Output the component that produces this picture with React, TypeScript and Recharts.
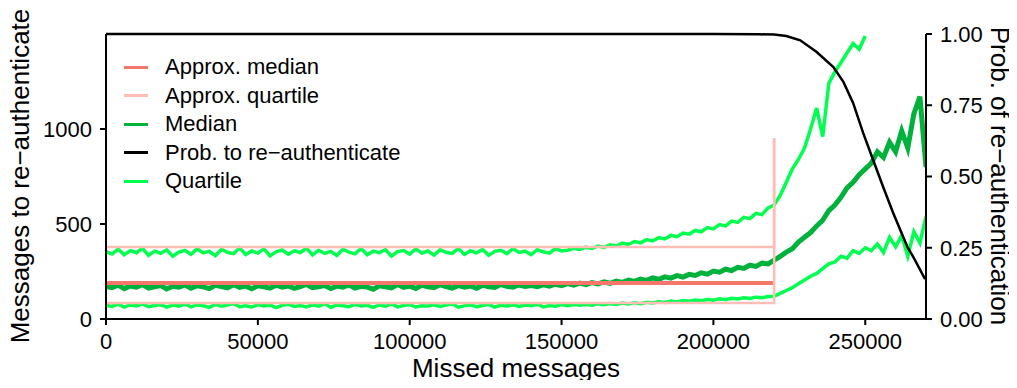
import { LineChart, Line, XAxis, YAxis } from 'recharts';

// missed-message bins (step 2000)
const missed = Array.from({ length: 136 }, (_, i) => i * 2000);

const medianVals = [
  172, 165, 178, 160, 174, 168, 181, 163, 170, 176, 158, 172, 167, 179, 162, 175, 169, 160, 177, 171,
  164, 180, 166, 173, 159, 175, 170, 162, 178, 168, 174, 161, 171, 182, 165, 169, 176, 160, 173, 167,
  179, 163, 172, 168, 157, 175, 170, 164, 181, 166, 173, 161, 177, 169, 165, 180, 171, 163, 176, 168,
  174, 162, 178, 170, 166, 181, 172, 167, 179, 171, 176,
  170, 180, 173, 183, 176, 186, 178, 189, 181, 192,
  185, 195, 188, 200, 193, 205, 198, 210, 203, 216,
  209, 222, 215, 228, 221, 235, 229, 243, 236, 252,
  246, 262, 255, 272, 266, 283, 277, 294, 290, 310,
  330, 352, 370, 405, 430, 455, 490, 520, 570, 600,
  640, 690, 720, 760, 790, 820, 880, 850, 930, 880,
  990, 900, 1080, 1170, 800,
];

const upperQuartile = [
  355, 342, 368, 338, 360, 349, 372, 335, 357, 346, 364, 330, 352, 361, 340, 370, 348, 356, 333, 366,
  351, 344, 375, 339, 358, 347, 369, 332, 354, 363, 341, 359, 350, 373, 337, 362, 345, 356, 334, 367,
  352, 343, 371, 338, 357, 349, 365, 331, 355, 360, 342, 369, 347, 358, 336, 364, 351, 345, 372, 340,
  359, 348, 366, 335, 356, 362, 344, 370, 350, 357, 339, 365, 353, 347, 371, 358,
  362, 372, 366, 378, 371, 384, 377, 391, 384, 399,
  392, 408, 401, 418, 411, 428, 421, 440, 433, 452,
  446, 466, 459, 481, 474, 497, 490, 515, 508, 535,
  528, 556, 549, 585, 600,
  650, 720, 790, 840, 900, 1000, 1110, 960, 1240, 1300,
  1350, 1400, 1450, 1420, 1490,
];

const lowerQuartile = [
  72, 66, 78, 63, 74, 69, 80, 65, 71, 76, 62, 73, 68, 79, 64, 75, 70, 61, 77, 67,
  73, 81, 65, 70, 63, 76, 69, 74, 60, 72, 78, 66, 71, 64, 75, 68, 80, 62, 73, 70,
  65, 77, 69, 72, 61, 74, 67, 79, 64, 71, 76, 63, 70, 68, 75, 66, 73, 80, 62, 69,
  74, 65, 71, 77, 63, 72, 68, 75, 66, 73, 70, 78, 64, 71, 67, 76,
  70, 76, 72, 78, 73, 80, 75, 82, 77, 84,
  79, 86, 81, 88, 84, 91, 87, 94, 90, 97,
  93, 100, 96, 103, 99, 106, 102, 109, 105, 112,
  108, 115, 112, 118, 120,
  135, 150, 165, 185, 205, 225, 240, 265, 290, 300,
  330, 320, 360, 345, 375, 360, 395, 350, 430, 380,
  440, 330, 460, 400, 540,
];

const probX = [0, 200000, 215000, 220000, 224000, 228600, 234000, 239500, 242800, 246000, 249300, 252600, 255900, 259200, 262500, 264000, 265800, 269700];
const probY = [1, 1, 0.999, 0.998, 0.993, 0.978, 0.937, 0.884, 0.832, 0.758, 0.653, 0.558, 0.463, 0.372, 0.288, 0.25, 0.218, 0.14];

const approxMedianX = [0, 220000];
const approxMedianY = [190, 190];
const approxUpperX = [0, 220000, 220000];
const approxUpperY = [379, 379, 953];
const approxLowerX = [0, 220000, 220000];
const approxLowerY = [84, 84, 953];

const xTicks = [0, 50000, 100000, 150000, 200000, 250000];
const leftTicks = [0, 500, 1000];
const rightTicks = [0, 0.25, 0.5, 0.75, 1];

const table = missed.map((x, i) => ({
  x,
  median: medianVals[i],
  q1: lowerQuartile[i],
  q3: upperQuartile[i] ?? null,
}));
const pts = (xs: number[], ys: number[]) => xs.map((x, i) => ({ x, y: ys[i] }));

const FONT = '"Liberation Sans", Arial, Helvetica, sans-serif';
const C_MEDIAN = '#00b23b';
const C_QUART = '#00ff4f';
const C_AMED = '#f5776b';
const C_AQ = '#ffbdb6';

const legendItems = [
  { label: 'Approx. median', color: C_AMED },
  { label: 'Approx. quartile', color: C_AQ },
  { label: 'Median', color: C_MEDIAN },
  { label: 'Prob. to re\u2212authenticate', color: '#000' },
  { label: 'Quartile', color: C_QUART },
];

const tickStyle = { fontSize: 22, fill: '#000', fontFamily: FONT };
const axisLine = { stroke: '#000', strokeWidth: 2 };
const tickLine = { stroke: '#000', strokeWidth: 2 };

export default function App() {
  return (
    <div style={{ position: 'relative', margin: -8, width: 1017, height: 388, fontFamily: FONT }}>
      <LineChart
        width={1017}
        height={388}
        data={table}
        margin={{ top: 34, right: 11, bottom: 29, left: 26 }}
      >
        <XAxis
          dataKey="x"
          type="number"
          domain={[0, 270000]}
          ticks={xTicks}
          allowDataOverflow
          height={40}
          tick={tickStyle}
          tickSize={6}
          tickMargin={8}
          axisLine={axisLine}
          tickLine={tickLine}
          label={{
            content: () => (
              <text x={516} y={377} textAnchor="middle" fontSize={26} fontFamily={FONT} fill="#000">
                Missed messages
              </text>
            ),
          }}
        />
        <YAxis
          yAxisId="left"
          type="number"
          domain={[0, 1500]}
          ticks={leftTicks}
          allowDataOverflow
          width={80}
          tick={tickStyle}
          tickSize={6}
          tickMargin={8}
          axisLine={axisLine}
          tickLine={tickLine}
          label={{
            content: () => (
              <text
                x={29}
                y={176}
                transform="rotate(-90 29 176)"
                textAnchor="middle"
                fontSize={26}
                fontFamily={FONT}
                fill="#000"
              >
                Messages to re{'\u2212'}authenticate
              </text>
            ),
          }}
        />
        <YAxis
          yAxisId="right"
          orientation="right"
          type="number"
          domain={[0, 1]}
          ticks={rightTicks}
          tickFormatter={(v: number) => v.toFixed(2)}
          width={80}
          tick={tickStyle}
          tickSize={6}
          tickMargin={8}
          axisLine={axisLine}
          tickLine={tickLine}
          label={{
            content: () => (
              <text
                x={991}
                y={176}
                transform="rotate(90 991 176)"
                textAnchor="middle"
                fontSize={26}
                fontFamily={FONT}
                fill="#000"
              >
                Prob. of re{'\u2212'}authentication
              </text>
            ),
          }}
        />
        <Line yAxisId="left" dataKey="q3" stroke={C_QUART} strokeWidth={3.5} strokeLinejoin="miter" dot={false} isAnimationActive={false} type="linear" />
        <Line yAxisId="left" dataKey="q1" stroke={C_QUART} strokeWidth={3.5} strokeLinejoin="miter" dot={false} isAnimationActive={false} type="linear" />
        <Line yAxisId="left" dataKey="median" stroke={C_MEDIAN} strokeWidth={5} strokeLinejoin="miter" dot={false} isAnimationActive={false} type="linear" />
        <Line yAxisId="left" data={pts(approxMedianX, approxMedianY)} dataKey="y" stroke={C_AMED} strokeWidth={4} dot={false} isAnimationActive={false} type="linear" />
        <Line yAxisId="left" data={pts(approxUpperX, approxUpperY)} dataKey="y" stroke={C_AQ} strokeWidth={2.5} dot={false} isAnimationActive={false} type="linear" />
        <Line yAxisId="left" data={pts(approxLowerX, approxLowerY)} dataKey="y" stroke={C_AQ} strokeWidth={2.5} dot={false} isAnimationActive={false} type="linear" />
        <Line yAxisId="right" data={pts(probX, probY)} dataKey="y" stroke="#000" strokeWidth={2.5} dot={false} isAnimationActive={false} type="linear" />
      </LineChart>
      <div style={{ position: 'absolute', left: 124, top: 53 }}>
        {legendItems.map((it) => (
          <div key={it.label} style={{ display: 'flex', alignItems: 'center', height: 28.5, lineHeight: '28.5px' }}>
            <div style={{ width: 24, height: 3, background: it.color, marginRight: 17 }} />
            <span style={{ fontSize: 22, color: '#000', whiteSpace: 'nowrap' }}>{it.label}</span>
          </div>
        ))}
      </div>
    </div>
  );
}
